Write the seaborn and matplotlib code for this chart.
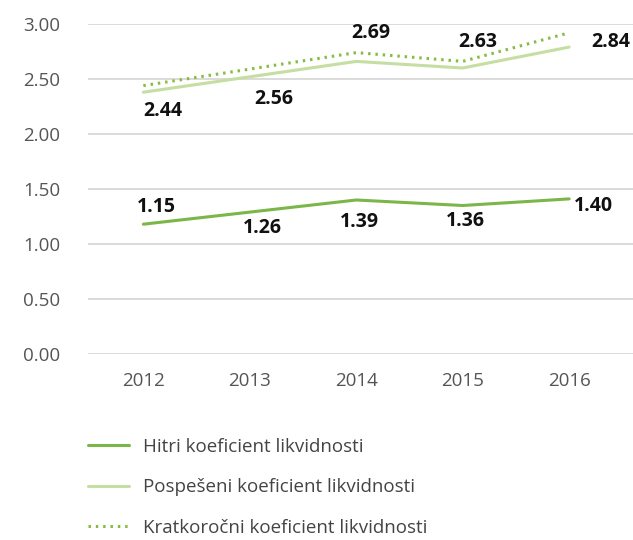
import numpy as np
import pandas as pd
import matplotlib
matplotlib.use("Agg")
from matplotlib import pyplot as plt
import seaborn as sns

# data
years = ["2012", "2013", "2014", "2015", "2016"]
hitri = [1.18, 1.29, 1.40, 1.35, 1.41]
pospeseni = [2.38, 2.52, 2.66, 2.60, 2.79]
kratkorocni = [2.44, 2.59, 2.74, 2.66, 2.92]

# printed data labels (as shown on the chart)
hitri_labels = ["1.15", "1.26", "1.39", "1.36", "1.40"]
upper_labels = ["2.44", "2.56", "2.69", "2.63", "2.84"]

names = ["Hitri koeficient likvidnosti",
         "Pospešeni koeficient likvidnosti",
         "Kratkoročni koeficient likvidnosti"]

df = pd.DataFrame({
    "year": years * 3,
    "value": hitri + pospeseni + kratkorocni,
    "series": [names[0]] * 5 + [names[1]] * 5 + [names[2]] * 5,
})

sns.set_style("white")
plt.rcParams["font.family"] = ["Open Sans", "DejaVu Sans"]

fig = plt.figure(figsize=(6.33, 5.40), dpi=100)
ax = fig.add_axes([88 / 633, (540 - 354) / 540, 545 / 633, 330 / 540])

palette = {names[0]: "#7ab648", names[1]: "#c5dea2", names[2]: "#86bc42"}
dashes = {names[0]: "", names[1]: "", names[2]: (0.8, 1.6)}

sns.lineplot(data=df, x="year", y="value", hue="series", style="series",
             palette=palette, dashes=dashes, linewidth=2.2, ax=ax,
             sort=False)

ax.set_ylim(0, 3.0)
ax.set_xlim(-0.52, 4.6)
ax.set_yticks(np.arange(0, 3.01, 0.5))
ax.set_yticklabels([f"{v:.2f}" for v in np.arange(0, 3.01, 0.5)])
ax.yaxis.grid(True, color="#d4d4d4", linewidth=1.2)
ax.xaxis.grid(False)
for s in ax.spines.values():
    s.set_visible(False)
ax.tick_params(axis="both", length=0, labelsize=13.5, colors="#555555")
ax.tick_params(axis="y", pad=20)
ax.tick_params(axis="x", pad=13)
ax.set_xlabel("")
ax.set_ylabel("")

# label offsets in pixels
up_off = [(19, -25), (24, -30), (15, 20), (15, 19), (42, -9)]
lo_off = [(13, 17), (13, -16), (3, -22), (3, -16), (24, -7)]
for i in range(5):
    ax.annotate(upper_labels[i], (i, kratkorocni[i]), xytext=up_off[i],
                textcoords="offset pixels", ha="center", va="center",
                fontsize=14, fontweight="bold", color="#111111",
                annotation_clip=False)
    ax.annotate(hitri_labels[i], (i, hitri[i]), xytext=lo_off[i],
                textcoords="offset pixels", ha="center", va="center",
                fontsize=14, fontweight="bold", color="#111111",
                annotation_clip=False)

leg = ax.legend(loc="upper left", bbox_to_anchor=(88 / 633, 1 - 438 / 540),
                bbox_transform=fig.transFigure, frameon=False,
                fontsize=13.5, handlelength=2.2, handletextpad=0.75,
                labelspacing=1.2, borderpad=0, borderaxespad=0)
for t in leg.get_texts():
    t.set_color("#444444")

fig.savefig("out.png", dpi=100)
